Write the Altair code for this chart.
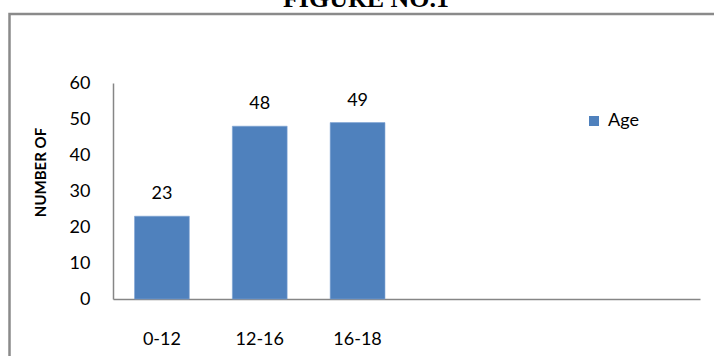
import altair as alt
import pandas as pd

categories = ["0-12", "12-16", "16-18"]
counts = [23, 48, 49]
series_name = "Age"
empty_slots = [" ", "  ", "   "]
y_ticks = [0, 10, 20, 30, 40, 50, 60]
chart_title = "FIGURE NO.1"
y_title = "NUMBER OF"

df = pd.DataFrame({"category": categories, "count": counts, "series": [series_name] * len(categories)})

W, H = 587, 216
FONT = "Lato"
AXIS_GRAY = "#868686"

x_enc = alt.X(
    "category:N",
    sort=None,
    scale=alt.Scale(domain=categories + empty_slots, paddingInner=0.44, paddingOuter=0.22),
    axis=alt.Axis(
        title=None, labelAngle=0, ticks=False, tickSize=0, labelPadding=45,
        labelBaseline="alphabetic", labelFontSize=18, labelFont=FONT, labelColor="#000000",
        domainColor=AXIS_GRAY, domainWidth=1.5, grid=False, labelOverlap=False,
    ),
)
y_enc = alt.Y(
    "count:Q",
    scale=alt.Scale(domain=[0, 60], nice=False),
    axis=alt.Axis(
        values=y_ticks, title=y_title, ticks=False, tickSize=0, labelPadding=23,
        labelFontSize=18, labelFont=FONT, labelColor="#000000",
        labelOverlap=False, labelFlush=False,
        domainColor=AXIS_GRAY, domainWidth=1.5, grid=False,
        titleFont=FONT, titleFontSize=15, titleFontWeight="bold", titleColor="#000000",
        titleAngle=-90, titleX=-73, titleY=89, titleAlign="center", titleBaseline="middle",
    ),
)

base = alt.Chart(df)

bars = base.mark_bar(stroke="#7ea3d3", strokeWidth=0.6).encode(
    x=x_enc,
    y=y_enc,
    color=alt.Color(
        "series:N",
        scale=alt.Scale(range=["#4F81BD"]),
        legend=alt.Legend(
            title=None, orient="none", legendX=472, legendY=29, symbolType="square",
            symbolSize=100, symbolStrokeWidth=0, labelFont=FONT, labelFontSize=18,
            labelColor="#000000", padding=0, labelOffset=5,
        ),
    ),
)

labels = base.mark_text(baseline="alphabetic", dy=-17, font=FONT, fontSize=18, color="#000000").encode(
    x=x_enc,
    y=y_enc,
    text=alt.Text("count:Q"),
)

frame = alt.Chart(alt.Data(values=[{}])).mark_rect(
    filled=False, stroke="#8a8a8a", strokeWidth=2.5, fill=None
).encode(
    x=alt.value(-103.5), x2=alt.value(612), y=alt.value(-69), y2=alt.value(285)
)

title = alt.Chart(alt.Data(values=[{}])).mark_text(
    font="Liberation Serif", fontSize=26, fontWeight="bold", color="#000000",
    baseline="alphabetic", align="center",
).encode(x=alt.value(253), y=alt.value(-76), text=alt.value(chart_title))

chart = alt.layer(frame, title, bars, labels).properties(
    width=W, height=H,
    autosize=alt.AutoSizeParams(type="none"),
    padding={"left": 113, "top": 83, "right": 14, "bottom": 57},
    background="white",
).configure_view(stroke=None).configure_axis(labelOverlap=False)

chart.save("out.html", embed_options={"renderer": "svg", "actions": False})
